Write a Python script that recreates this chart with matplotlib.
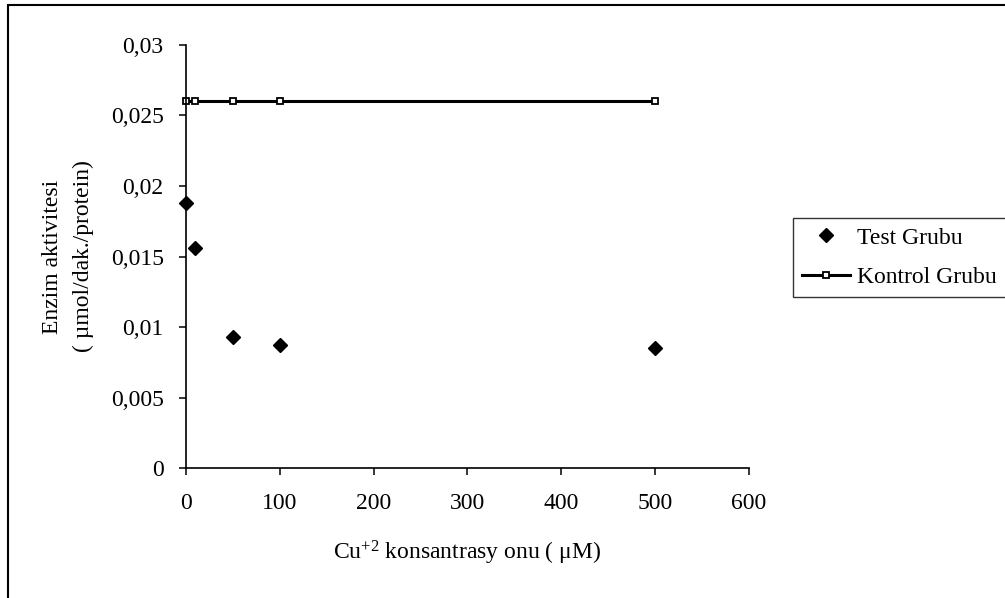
import matplotlib

matplotlib.use("Agg")

import matplotlib.pyplot as plt
from matplotlib.patches import Rectangle

plt.rcParams["font.family"] = ["Liberation Serif", "DejaVu Serif"]
plt.rcParams["mathtext.fontset"] = "custom"
plt.rcParams["mathtext.rm"] = "Liberation Serif"
plt.rcParams["mathtext.it"] = "Liberation Serif:italic"

# Cu+2 concentrations (uM)
conc = [0, 10, 50, 100, 500]
test_group = [0.0188, 0.0156, 0.0093, 0.0087, 0.0085]
control_group = [0.026, 0.026, 0.026, 0.026, 0.026]

x_ticks = [0, 100, 200, 300, 400, 500, 600]
y_ticks = [0, 0.005, 0.01, 0.015, 0.02, 0.025, 0.03]
y_tick_labels = ["0", "0,005", "0,01", "0,015", "0,02", "0,025", "0,03"]


def main() -> None:
    fig = plt.figure(figsize=(10.05, 5.98), dpi=100)
    ax = fig.add_axes([0.185, 0.217, 0.560, 0.708])

    test_line, = ax.plot(conc, test_group, linestyle="none", marker="D",
                         markersize=7.5, color="black", label="Test Grubu",
                         clip_on=False, zorder=3)
    ctrl_line, = ax.plot(conc, control_group, color="black", linewidth=2.2,
                         marker="s", markersize=4, markerfacecolor="white",
                         markeredgewidth=1.3, label="Kontrol Grubu",
                         clip_on=False, zorder=2)

    ax.set_xlim(0, 600)
    ax.set_ylim(0, 0.03)
    ax.set_xticks(x_ticks)
    ax.set_yticks(y_ticks)
    ax.set_yticklabels(y_tick_labels)

    for side in ("top", "right"):
        ax.spines[side].set_visible(False)
    for side in ("left", "bottom"):
        ax.spines[side].set_linewidth(1.2)

    ax.tick_params(axis="both", direction="out", length=5, width=1.1,
                   labelsize=17)
    ax.tick_params(axis="x", pad=13)
    ax.tick_params(axis="y", pad=11)

    ax.set_xlabel(r"Cu$^{\mathregular{+2}}$ konsantrasy onu ( $\mathregular{\mu}$M)",
                  fontsize=17, labelpad=18)
    ax.set_ylabel("Enzim aktivitesi\n( \u00b5mol/dak./protein)",
                  fontsize=17, labelpad=12, linespacing=1.6)

    leg = fig.legend(handles=[test_line, ctrl_line], loc="upper left",
                     bbox_to_anchor=(0.789, 0.636), frameon=True,
                     fancybox=False, fontsize=17, borderpad=0.4,
                     handlelength=2.0, handletextpad=0.3,
                     labelspacing=0.75, borderaxespad=0)
    leg.get_frame().set_edgecolor("black")
    leg.get_frame().set_linewidth(1.0)

    # border around the whole chart area
    fig.patches.append(Rectangle((8 / 1005, -0.1), 2.0, 1.1 - 5 / 598,
                                 transform=fig.transFigure, fill=False,
                                 edgecolor="black", linewidth=1.5))

    fig.savefig("out.png", dpi=100)


if __name__ == "__main__":
    main()
